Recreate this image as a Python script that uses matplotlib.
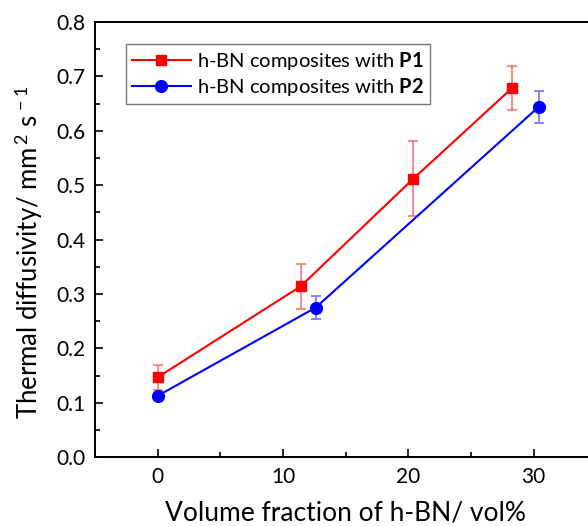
import matplotlib
matplotlib.use("Agg")
import matplotlib.pyplot as plt
from matplotlib.ticker import MultipleLocator

FONT = 'Lato'
plt.rcParams['font.family'] = [FONT, 'DejaVu Sans']
plt.rcParams['mathtext.fontset'] = 'custom'
plt.rcParams['mathtext.rm'] = FONT
plt.rcParams['mathtext.bf'] = FONT + ':bold'
plt.rcParams['mathtext.it'] = FONT + ':italic'

# Data
p1_x = [0, 11.4, 20.4, 28.3]
p1_y = [0.147, 0.314, 0.512, 0.679]
p1_err = [0.023, 0.042, 0.069, 0.041]

p2_x = [0, 12.6, 30.4]
p2_y = [0.113, 0.275, 0.644]
p2_err = [0.006, 0.021, 0.029]

x_ticks = [0, 10, 20, 30]
y_ticks = [0.0, 0.1, 0.2, 0.3, 0.4, 0.5, 0.6, 0.7, 0.8]

fig = plt.figure(figsize=(5.88, 5.26), dpi=100)
ax = fig.add_axes([95/588, (526-457.3)/526, (596.3-95)/588, (457.3-22)/526])

ax.errorbar(p1_x, p1_y, yerr=p1_err, fmt='none', ecolor=(1, 0.45, 0.45),
            elinewidth=1.2, capsize=3.5, capthick=1.2, zorder=2)
ax.errorbar(p2_x, p2_y, yerr=p2_err, fmt='none', ecolor=(0.45, 0.45, 1),
            elinewidth=1.2, capsize=3.5, capthick=1.2, zorder=2)
ax.plot(p1_x, p1_y, '-s', color='#ff0000', lw=1.5, ms=7,
        label=r'h-BN composites with $\mathbf{P1}$', zorder=3)
ax.plot(p2_x, p2_y, '-o', color='#0000ff', lw=1.5, ms=8.5,
        label=r'h-BN composites with $\mathbf{P2}$', zorder=3)

ax.set_xlim(-5, 35)
ax.set_ylim(0.0, 0.8)
ax.set_xticks(x_ticks)
ax.set_yticks(y_ticks)
ax.set_yticklabels([f'{v:.1f}' for v in y_ticks])
ax.xaxis.set_minor_locator(MultipleLocator(5))
ax.yaxis.set_minor_locator(MultipleLocator(0.05))
ax.tick_params(which='major', direction='in', length=6, width=1.2, labelsize=15, pad=7,
               top=False, right=False)
ax.tick_params(which='minor', direction='in', length=3.5, width=1.2, top=False, right=False)
for s in ax.spines.values():
    s.set_linewidth(1.4)

ax.set_xlabel('Volume fraction of h-BN/ vol%', fontsize=19, labelpad=10)
ax.set_ylabel(r'Thermal diffusivity/ mm$^{\,2}$ s$^{\,-1}$', fontsize=18.5)
ax.yaxis.set_label_coords(-0.10, 0.472)

leg = ax.legend(loc='upper left', bbox_to_anchor=(0.062, 0.949), borderaxespad=0,
                fontsize=14.5, frameon=True, fancybox=False, edgecolor='#555555',
                handlelength=2.9, handletextpad=0.3, borderpad=0.3, labelspacing=0.2)
leg.get_frame().set_linewidth(1.0)

fig.savefig('out.png', dpi=100)
